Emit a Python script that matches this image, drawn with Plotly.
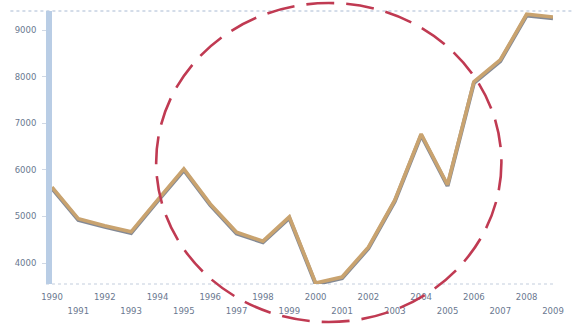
import plotly.graph_objects as go

# Annual values, 1990-2009
years = list(range(1990, 2010))
values = [5630, 4950, 4800, 4670, 5350, 6020, 5270, 4660, 4470, 4990,
          3570, 3700, 4340, 5350, 6770, 5680, 7890, 8360, 9340, 9280]

y_ticks = [4000, 5000, 6000, 7000, 8000, 9000]
even_years = [y for y in years if y % 2 == 0]
odd_years = [y for y in years if y % 2 == 1]

label_font = dict(family="DejaVu Sans", size=8.5, color="#6a7890")
x_range = [1990, 2009]
y_range = [3550, 9410]

fig = go.Figure()

# soft grey drop shadow under the line (hidden base axis, range nudged so it sits lower)
fig.add_trace(go.Scatter(
    x=years, y=values, mode="lines", yaxis="y",
    line=dict(color="rgba(100,108,122,0.8)", width=4.0),
    hoverinfo="skip", showlegend=False,
))
# the tan value line on the labelled axis
fig.add_trace(go.Scatter(
    x=years, y=values, mode="lines", yaxis="y2",
    line=dict(color="#c9a36f", width=3.6),
    showlegend=False,
))
# odd-year labels live on a second bottom axis, one row lower
fig.add_trace(go.Scatter(x=[None], y=[None], xaxis="x2", yaxis="y2",
                         showlegend=False, hoverinfo="skip"))

shapes = [
    # top boundary, dotted
    dict(type="line", xref="paper", yref="paper", x0=-0.083, x1=1.04, y0=1, y1=1,
         line=dict(color="#a9bad3", width=1, dash="dot"), layer="below"),
    # bottom axis line, dotted
    dict(type="line", xref="paper", yref="paper", x0=-0.012, x1=1.0, y0=0, y1=0,
         line=dict(color="#c3cedd", width=1.2, dash="dot"), layer="below"),
    # thick light-blue vertical axis bar
    dict(type="rect", xref="paper", yref="paper", x0=-0.012, x1=0.0, y0=0, y1=1.0,
         fillcolor="#b9cde5", line=dict(width=0), layer="above"),
    # dashed highlight circle
    dict(type="circle", xref="paper", yref="paper",
         x0=(157 - 52) / 505, x1=(505 - 52) / 505,
         y0=(284 - 322) / 273, y1=(284 - 3) / 273,
         line=dict(color="#c03a52", width=2.6, dash="28px,12px"), layer="above"),
]

axis_common = dict(showgrid=False, zeroline=False, showline=False)

fig.update_layout(
    width=575, height=327,
    margin=dict(l=52, r=18, t=11, b=43),
    paper_bgcolor="white", plot_bgcolor="white",
    showlegend=False,
    shapes=shapes,
    xaxis=dict(
        range=x_range, tickmode="array", tickvals=even_years,
        ticktext=[str(y) for y in even_years],
        ticks="", tickfont=label_font, ticklabelstandoff=6, **axis_common,
    ),
    xaxis2=dict(
        range=x_range, overlaying="x", side="bottom", anchor="y2",
        tickmode="array", tickvals=odd_years,
        ticktext=[str(y) for y in odd_years],
        ticks="", tickfont=label_font, ticklabelstandoff=20, **axis_common,
    ),
    yaxis=dict(
        range=[y_range[0] + 25, y_range[1] + 25],
        showticklabels=False, ticks="", **axis_common,
    ),
    yaxis2=dict(
        range=y_range, overlaying="y", side="left", anchor="x",
        tickmode="array", tickvals=y_ticks,
        ticktext=[str(v) for v in y_ticks],
        ticks="outside", ticklen=9, tickcolor="#d0d8e4", tickwidth=1,
        tickfont=label_font, ticklabelstandoff=4, **axis_common,
    ),
)

fig.write_html("out.html")
